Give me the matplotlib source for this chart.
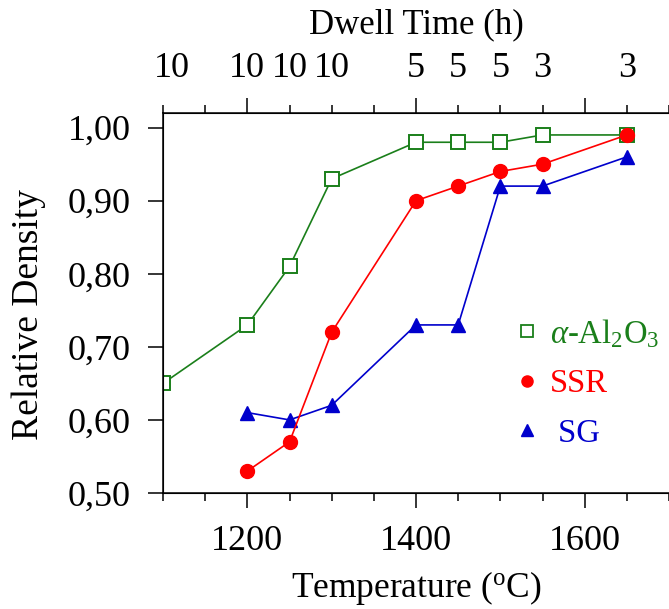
import matplotlib

matplotlib.use("Agg")
import matplotlib.pyplot as plt
from matplotlib.lines import Line2D
from matplotlib.ticker import MultipleLocator

plt.rcParams["font.family"] = ["Liberation Serif", "DejaVu Serif"]
plt.rcParams["mathtext.fontset"] = "custom"
plt.rcParams["mathtext.rm"] = "Liberation Serif"
plt.rcParams["mathtext.it"] = "Liberation Serif:italic"

# Sintering temperature (C) and relative density per powder
temp_al2o3 = [1100, 1200, 1250, 1300, 1400, 1450, 1500, 1550, 1650]
dens_al2o3 = [0.65, 0.73, 0.81, 0.93, 0.98, 0.98, 0.98, 0.99, 0.99]

temp_ssr = [1200, 1250, 1300, 1400, 1450, 1500, 1550, 1650]
dens_ssr = [0.53, 0.57, 0.72, 0.90, 0.92, 0.94, 0.95, 0.99]

temp_sg = [1200, 1250, 1300, 1400, 1450, 1500, 1550, 1650]
dens_sg = [0.61, 0.60, 0.62, 0.73, 0.73, 0.92, 0.92, 0.96]

# Dwell time (h) at each temperature, shown along the top
dwell_temps = [1100, 1200, 1250, 1300, 1400, 1450, 1500, 1550, 1650]
dwell_labels = ["10", "10", "10", "10", "5", "5", "5", "3", "3"]

yticks = [0.50, 0.60, 0.70, 0.80, 0.90, 1.00]
yticklabels = ["0,50", "0,60", "0,70", "0,80", "0,90", "1,00"]
xticks = [1200, 1400, 1600]

GREEN = "#1a7f1a"
RED = "#ff0000"
BLUE = "#0000cc"

fig = plt.figure(figsize=(6.69, 6.09), dpi=100)
ax = fig.add_axes([0.2437, 0.1905, 0.7563, 0.6239])

ax.plot(temp_al2o3, dens_al2o3, color=GREEN, lw=1.2, marker="s", ms=9.5,
        mfc="white", mec=GREEN, mew=1.4, zorder=3)
ax.plot(temp_sg, dens_sg, color=BLUE, lw=1.2, marker="^", ms=10,
        mfc=BLUE, mec=BLUE, zorder=4)
ax.plot(temp_ssr, dens_ssr, color=RED, lw=1.2, marker="o", ms=10,
        mfc=RED, mec=RED, zorder=5)

ax.set_xlim(1100, 1700)
ax.set_ylim(0.50, 1.02)
ax.set_xticks(xticks)
ax.xaxis.set_minor_locator(MultipleLocator(50))
ax.set_yticks(yticks)
ax.set_yticklabels(yticklabels)
ax.tick_params(axis="both", which="major", direction="out", length=11,
               width=1.1, labelsize=26, pad=12)
ax.tick_params(axis="x", which="minor", direction="out", length=6, width=1.1)
ax.tick_params(axis="x", which="both", top=False)
ax.tick_params(axis="y", right=False)
ax.spines["right"].set_visible(False)
for s in ("left", "bottom", "top"):
    ax.spines[s].set_linewidth(1.1)

ax.set_xlabel(r"Temperature ($^{\rm o}$C)", fontsize=25.5, va="center")
ax.xaxis.set_label_coords(0.5, -0.25)
ax.set_ylabel("Relative Density", fontsize=27, va="center")
ax.yaxis.set_label_coords(-0.265, 0.47)

top = ax.twiny()
top.set_xlim(ax.get_xlim())
top.set_xticks(xticks)
top.xaxis.set_minor_locator(MultipleLocator(50))
top.tick_params(axis="x", which="major", direction="out", length=11, width=1.1,
                labeltop=False)
top.tick_params(axis="x", which="minor", direction="out", length=6, width=1.1)
top.spines["right"].set_visible(False)
for x, lab in zip(dwell_temps, dwell_labels):
    top.text(x + (10 if x == 1100 else 0), 1.118, lab, transform=top.get_xaxis_transform(),
             ha="center", va="center", fontsize=26)
top.text(0.5, 1.232, "Dwell Time (h)", transform=top.transAxes,
         ha="center", va="center", fontsize=25)

handles = [
    Line2D([], [], ls="none", marker="s", ms=8, mfc="white", mec=GREEN, mew=1.3),
    Line2D([], [], ls="none", marker="o", ms=8, mfc=RED, mec=RED),
    Line2D([], [], ls="none", marker="^", ms=8, mfc=BLUE, mec=BLUE),
]
labels = [r"$\alpha$-Al$_2$O$_3$", "SSR", " SG"]
ax.legend(handles, labels, loc="center left", bbox_to_anchor=(0.635, 0.29),
          frameon=False, fontsize=23.5, handlelength=0.8, handletextpad=0.3,
          labelspacing=0.58, labelcolor=[GREEN, RED, BLUE])

fig.savefig("out.png", dpi=100)
